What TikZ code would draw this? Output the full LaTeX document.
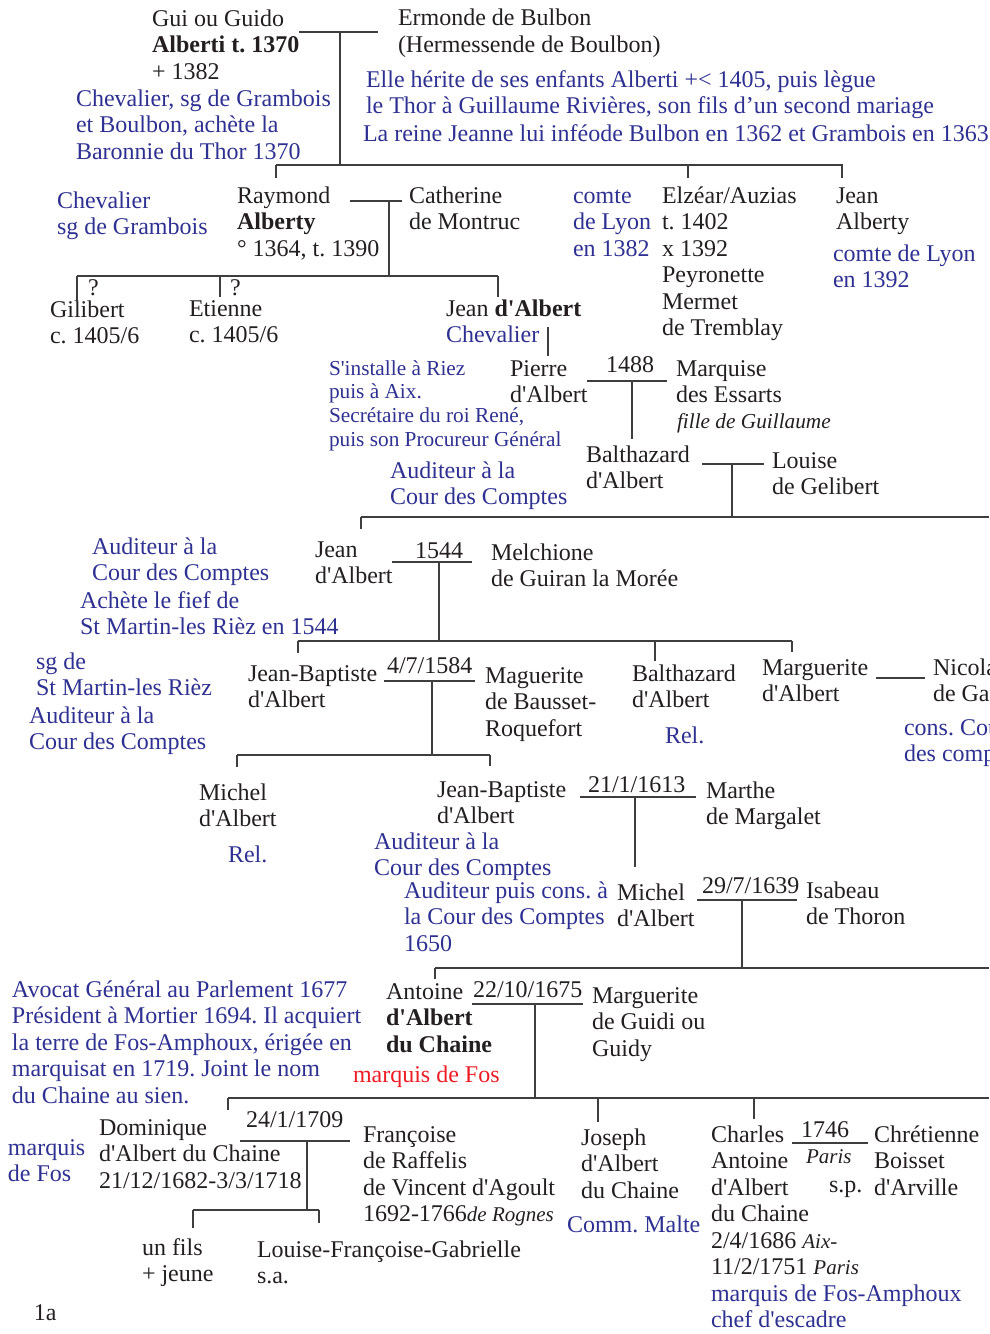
\documentclass[tikz,border=0pt]{standalone}
\usepackage{fontspec}
\setmainfont{Liberation Serif}[Ligatures=TeXOff]
\frenchspacing
\definecolor{ink}{RGB}{35,31,32}
\definecolor{blu}{RGB}{46,49,146}
\definecolor{rd}{RGB}{237,28,36}
\definecolor{lin}{RGB}{62,62,62}
\newcommand\fmain{\fontsize{24}{26.5}\selectfont\frenchspacing}
\newcommand\fsmall{\fontsize{21.3}{23.7}\selectfont\frenchspacing}
\newcommand\fit[1]{{\fontsize{21}{26.5}\selectfont\itshape #1}}
\newcommand\ml[1]{\begin{tabular}[t]{@{}l@{}}#1\end{tabular}}
\tikzset{
  tx/.style={anchor=base west,inner sep=0pt,outer sep=0pt,font=\fmain,text=ink},
  bl/.style={tx,text=blu},
  sm/.style={tx,font=\fsmall},
  ln/.style={draw=lin,line width=1.5pt}
}
\begin{document}
\begin{tikzpicture}[x=1pt,y=-1pt]
\useasboundingbox (0,0) rectangle (989,1334);
% ---------- generation 1
\node[tx] (gui) at (152,26) {\ml{Gui ou Guido\\\textbf{Alberti t. 1370}\\+ 1382}};
\node[bl] (guib) at (76,106) {\ml{Chevalier, sg de Grambois\\et Boulbon, achète la\\Baronnie du Thor 1370}};
\node[tx] (erm) at (398,25.5) {\ml{Ermonde de Bulbon\\(Hermessende de Boulbon)}};
\node[bl] (ermb) at (366,87) {\ml{Elle hérite de ses enfants Alberti +< 1405, puis lègue\\le Thor à Guillaume Rivières, son fils d’un second mariage}};
\node[bl] (ermc) at (363,141) {La reine Jeanne lui inféode Bulbon en 1362 et Grambois en 1363};
% ---------- generation 2
\node[bl] (raymb) at (57,208) {\ml{Chevalier\\sg de Grambois}};
\node[tx] (raym) at (237,203) {\ml{Raymond\\\textbf{Alberty}\\° 1364, t. 1390}};
\node[tx] (cath) at (409,203) {\ml{Catherine\\de Montruc}};
\node[bl] (elzb) at (573,203) {\ml{comte\\de Lyon\\en 1382}};
\node[tx] (elz) at (662,203) {\ml{Elzéar/Auzias\\t. 1402\\x 1392\\Peyronette\\Mermet\\de Tremblay}};
\node[tx] (jeanA) at (836,203) {\ml{Jean\\Alberty}};
\node[bl] (jeanAb) at (833,261) {\ml{comte de Lyon\\en 1392}};
% ---------- generation 3
\node[tx] (q1) at (88,295) {?};
\node[tx] (q2) at (230,295) {?};
\node[tx] (gili) at (50,317) {\ml{Gilibert\\c. 1405/6}};
\node[tx] (etie) at (189,316) {\ml{Etienne\\c. 1405/6}};
\node[tx] (jeanD) at (446,316) {\ml{Jean \textbf{d'Albert}\\{\color{blu}Chevalier}}};
% ---------- generation 4
\node[sm,text=blu] (pierb) at (329,375) {\ml{S'installe à Riez\\puis à Aix.\\Secrétaire du roi René,\\puis son Procureur Général}};
\node[tx] (pier) at (510,376) {\ml{Pierre\\d'Albert}};
\node[tx] (d1488) at (606,372) {1488};
\node[tx] (marq) at (676,376) {\ml{Marquise\\des Essarts}};
\node[tx,font=\fontsize{21.3}{26.5}\selectfont\itshape] (marqf) at (677,428) {fille de Guillaume};
% ---------- generation 5
\node[bl] (baltb) at (390,478) {\ml{Auditeur à la\\Cour des Comptes}};
\node[tx] (balt) at (586,462) {\ml{Balthazard\\d'Albert}};
\node[tx] (lou) at (772,468) {\ml{Louise\\de Gelibert}};
% ---------- generation 6
\node[bl] (jean2b) at (92,554) {\ml{Auditeur à la\\Cour des Comptes}};
\node[bl] (jean2c) at (80,608) {\ml{Achète le fief de\\St Martin-les Rièz en 1544}};
\node[tx] (jean2) at (315,557) {\ml{Jean\\d'Albert}};
\node[tx] (d1544) at (415,558) {1544};
\node[tx] (melc) at (491,560) {\ml{Melchione\\de Guiran la Morée}};
% ---------- generation 7
\node[bl] (jbb) at (36,669) {\ml{sg de\\St Martin-les Rièz}};
\node[bl] (jbc) at (29,723) {\ml{Auditeur à la\\Cour des Comptes}};
\node[tx] (jb) at (248,681) {\ml{Jean-Baptiste\\d'Albert}};
\node[tx] (d1584) at (387,673) {4/7/1584};
\node[tx] (mague) at (485,683) {\ml{Maguerite\\de Bausset-\\Roquefort}};
\node[tx] (balt2) at (632,681) {\ml{Balthazard\\d'Albert}};
\node[bl] (balt2b) at (665,743) {Rel.};
\node[tx] (marg) at (762,675) {\ml{Marguerite\\d'Albert}};
\node[tx] (nico) at (933,675) {\ml{Nicolas\\de Ga}};
\node[bl] (nicob) at (904,735) {\ml{cons. Cour\\des comptes}};
% ---------- generation 8
\node[tx] (mich) at (199,800) {\ml{Michel\\d'Albert}};
\node[bl] (michb) at (228,862) {Rel.};
\node[tx] (jb2) at (437,797) {\ml{Jean-Baptiste\\d'Albert}};
\node[bl] (jb2b) at (374,849) {\ml{Auditeur à la\\Cour des Comptes}};
\node[tx] (d1613) at (588,792) {21/1/1613};
\node[tx] (mart) at (706,798) {\ml{Marthe\\de Margalet}};
% ---------- generation 9
\node[bl] (mich2b) at (404,898) {\ml{Auditeur puis cons. à\\la Cour des Comptes\\1650}};
\node[tx] (mich2) at (617,900) {\ml{Michel\\d'Albert}};
\node[tx] (d1639) at (702,893) {29/7/1639};
\node[tx] (isab) at (806,898) {\ml{Isabeau\\de Thoron}};
% ---------- generation 10
\node[bl] (antb) at (12,997) {\ml{Avocat Général au Parlement 1677\\Président à Mortier 1694. Il acquiert\\la terre de Fos-Amphoux, érigée en\\marquisat en 1719. Joint le nom\\du Chaine au sien.}};
\node[tx] (ant) at (386,999) {\ml{Antoine\\\textbf{d'Albert}\\\textbf{du Chaine}}};
\node[tx,text=rd] (antr) at (353,1082) {marquis de Fos};
\node[tx] (d1675) at (473,997) {22/10/1675};
\node[tx] (margu) at (592,1003) {\ml{Marguerite\\de Guidi ou\\Guidy}};
% ---------- generation 11
\node[bl] (domb) at (8,1155) {\ml{marquis\\de Fos}};
\node[tx] (dom) at (99,1135) {\ml{Dominique\\d'Albert du Chaine\\21/12/1682-3/3/1718}};
\node[tx] (d1709) at (246,1127) {24/1/1709};
\node[tx] (fran) at (363,1142) {\ml{Françoise\\de Raffelis\\de Vincent d'Agoult\\1692-1766\fit{de Rognes}}};
\node[tx] (jos) at (581,1145) {\ml{Joseph\\d'Albert\\du Chaine}};
\node[bl] (josb) at (567,1232) {Comm. Malte};
\node[tx] (char) at (711,1142) {\ml{Charles\\Antoine\\d'Albert\\du Chaine\\2/4/1686 \fit{Aix-}\\11/2/1751 \fit{Paris}\\{\color{blu}marquis de Fos-Amphoux}\\{\color{blu}chef d'escadre}}};
\node[tx] (d1746) at (801,1137) {1746};
\node[tx,font=\fontsize{21}{26.5}\selectfont\itshape] (paris) at (806,1163) {Paris};
\node[tx] (sp) at (829,1192) {s.p.};
\node[tx] (chre) at (874,1142) {\ml{Chrétienne\\Boisset\\d'Arville}};
% ---------- generation 12
\node[tx] (fils) at (142,1255) {\ml{un fils\\+ jeune}};
\node[tx] (louf) at (257,1257) {\ml{Louise-Françoise-Gabrielle\\s.a.}};
\node[tx] (pg) at (34,1320) {1a};
% ================= connectors
% couple Gui / Ermonde
\coordinate (m1l) at (299,32); \coordinate (m1r) at (378,32); \coordinate (m1d) at (340,165);
\draw[ln] (m1l) -- (m1r); \draw[ln] (m1l -| m1d) -- (m1d);
\coordinate (s1l) at (276,165); \coordinate (s1r) at (843,165);
\draw[ln] (s1l) -- (s1r);
\coordinate (t1a) at (276,178); \coordinate (t1b) at (688,178); \coordinate (t1c) at (842,178);
\draw[ln] (t1a |- s1l) -- (t1a); \draw[ln] (t1b |- s1l) -- (t1b); \draw[ln] (t1c |- s1l) -- (t1c);
% couple Raymond / Catherine
\coordinate (m2l) at (350,201); \coordinate (m2r) at (402,201); \coordinate (m2d) at (389,276);
\draw[ln] (m2l) -- (m2r); \draw[ln] (m2l -| m2d) -- (m2d);
\coordinate (s2l) at (77,276); \coordinate (s2r) at (498,276);
\draw[ln] (s2l) -- (s2r);
\coordinate (t2a) at (77,302); \coordinate (t2b) at (220,297); \coordinate (t2c) at (498,297);
\draw[ln] (t2a |- s2l) -- (t2a); \draw[ln] (t2b |- s2l) -- (t2b); \draw[ln] (t2c |- s2l) -- (t2c);
% Jean d'Albert -> Pierre
\coordinate (j1a) at (548,327); \coordinate (j1b) at (548,356);
\draw[ln] (j1a) -- (j1b);
% couple Pierre / Marquise
\coordinate (m3l) at (587,381); \coordinate (m3r) at (667,381); \coordinate (m3d) at (632,439);
\draw[ln] (m3l) -- (m3r); \draw[ln] (m3l -| m3d) -- (m3d);
% couple Balthazard / Louise
\coordinate (m4l) at (702,464); \coordinate (m4r) at (764,464); \coordinate (m4d) at (732,517);
\draw[ln] (m4l) -- (m4r); \draw[ln] (m4l -| m4d) -- (m4d);
\coordinate (s4l) at (361,517); \coordinate (s4r) at (989,517);
\draw[ln] (s4l) -- (s4r);
\coordinate (t4a) at (361,529);
\draw[ln] (t4a |- s4l) -- (t4a);
% couple Jean / Melchione
\coordinate (m5l) at (392,562); \coordinate (m5r) at (472,562); \coordinate (m5d) at (439,641);
\draw[ln] (m5l) -- (m5r); \draw[ln] (m5l -| m5d) -- (m5d);
\coordinate (s5l) at (298,641); \coordinate (s5r) at (792,641);
\draw[ln] (s5l) -- (s5r);
\coordinate (t5a) at (298,653); \coordinate (t5b) at (655,661); \coordinate (t5c) at (792,652);
\draw[ln] (t5a |- s5l) -- (t5a); \draw[ln] (t5b |- s5l) -- (t5b); \draw[ln] (t5c |- s5l) -- (t5c);
% Marguerite / Nicolas
\coordinate (m6l) at (876,678); \coordinate (m6r) at (925,678);
\draw[ln] (m6l) -- (m6r);
% couple Jean-Baptiste / Maguerite
\coordinate (m7l) at (384,681); \coordinate (m7r) at (475,681); \coordinate (m7d) at (432,755);
\draw[ln] (m7l) -- (m7r); \draw[ln] (m7l -| m7d) -- (m7d);
\coordinate (s7l) at (237,755); \coordinate (s7r) at (490,755);
\draw[ln] (s7l) -- (s7r);
\coordinate (t7a) at (237,767); \coordinate (t7b) at (490,766);
\draw[ln] (t7a |- s7l) -- (t7a); \draw[ln] (t7b |- s7l) -- (t7b);
% couple Jean-Baptiste / Marthe
\coordinate (m8l) at (580,797); \coordinate (m8r) at (696,797); \coordinate (m8d) at (635,867);
\draw[ln] (m8l) -- (m8r); \draw[ln] (m8l -| m8d) -- (m8d);
% couple Michel / Isabeau
\coordinate (m9l) at (697,900); \coordinate (m9r) at (797,900); \coordinate (m9d) at (742,968);
\draw[ln] (m9l) -- (m9r); \draw[ln] (m9l -| m9d) -- (m9d);
\coordinate (s9l) at (435,968); \coordinate (s9r) at (989,968);
\draw[ln] (s9l) -- (s9r);
\coordinate (t9a) at (435,979);
\draw[ln] (t9a |- s9l) -- (t9a);
% couple Antoine / Marguerite
\coordinate (m10l) at (472,1004); \coordinate (m10r) at (583,1004); \coordinate (m10d) at (535,1098);
\draw[ln] (m10l) -- (m10r); \draw[ln] (m10l -| m10d) -- (m10d);
\coordinate (s10l) at (228,1098); \coordinate (s10r) at (989,1098);
\draw[ln] (s10l) -- (s10r);
\coordinate (t10a) at (228,1110); \coordinate (t10b) at (598,1122); \coordinate (t10c) at (754,1119);
\draw[ln] (t10a |- s10l) -- (t10a); \draw[ln] (t10b |- s10l) -- (t10b); \draw[ln] (t10c |- s10l) -- (t10c);
% couple Dominique / Françoise
\coordinate (m11l) at (240,1141); \coordinate (m11r) at (350,1141); \coordinate (m11d) at (307,1210);
\draw[ln] (m11l) -- (m11r); \draw[ln] (m11l -| m11d) -- (m11d);
\coordinate (s11l) at (193,1210); \coordinate (s11r) at (319,1210);
\draw[ln] (s11l) -- (s11r);
\coordinate (t11a) at (193,1228); \coordinate (t11b) at (319,1223);
\draw[ln] (t11a |- s11l) -- (t11a); \draw[ln] (t11b |- s11l) -- (t11b);
% couple Charles / Chrétienne
\coordinate (m12l) at (792,1143); \coordinate (m12r) at (868,1143);
\draw[ln] (m12l) -- (m12r);
\end{tikzpicture}
\end{document}
